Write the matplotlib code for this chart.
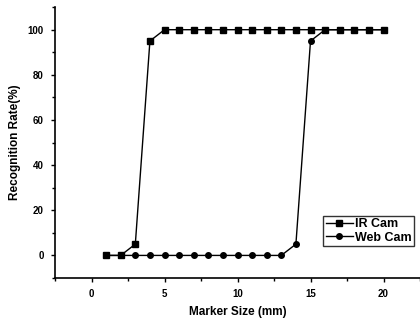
"""Recognition rate vs marker size for IR and web cameras."""

import matplotlib
matplotlib.use("Agg")
import matplotlib.pyplot as plt
from matplotlib.ticker import MultipleLocator

marker_size = [1, 2, 3, 4, 5, 6, 7, 8, 9, 10, 11, 12, 13, 14, 15, 16, 17, 18, 19, 20]
ir_cam = [0, 0, 5, 95, 100, 100, 100, 100, 100, 100, 100, 100, 100, 100, 100, 100, 100, 100, 100, 100]
web_cam = [0, 0, 0, 0, 0, 0, 0, 0, 0, 0, 0, 0, 0, 5, 95, 100, 100, 100, 100, 100]

plt.rcParams["font.family"] = ["Liberation Sans", "DejaVu Sans"]
plt.rcParams["font.weight"] = "bold"

fig = plt.figure(figsize=(4.2, 3.24), dpi=100)
ax = fig.add_axes([0.131, 0.142, 0.869, 0.836])

ax.plot(marker_size, ir_cam, "k-s", markersize=4, linewidth=1.0, label="IR Cam")
ax.plot(marker_size, web_cam, "k-o", markersize=4, linewidth=1.0, label="Web Cam")

ax.set_xlim(-2.5, 22.5)
ax.set_ylim(-10, 110)
ax.xaxis.set_major_locator(MultipleLocator(5))
ax.xaxis.set_minor_locator(MultipleLocator(2.5))
ax.yaxis.set_major_locator(MultipleLocator(20))
ax.yaxis.set_minor_locator(MultipleLocator(10))
ax.tick_params(which="major", direction="out", length=3, width=1, labelsize=7, pad=5)
ax.tick_params(which="minor", direction="out", length=2, width=1)
for lbl in ax.get_xticklabels() + ax.get_yticklabels():
    lbl.set_fontweight("bold")

ax.spines["top"].set_visible(False)
ax.spines["right"].set_visible(False)
ax.spines["left"].set_linewidth(1.2)
ax.spines["bottom"].set_linewidth(1.2)

ax.set_xlabel("Marker Size (mm)", fontsize=8.5, fontweight="bold", labelpad=5)
ax.set_ylabel("Recognition Rate(%)", fontsize=8.5, fontweight="bold", labelpad=5)

# legend box sits just above the bottom spine, near the right edge
leg = ax.legend(loc="lower right", bbox_to_anchor=(0.984, 0.118), fontsize=9,
                frameon=True, fancybox=False, edgecolor="black",
                handlelength=2.2, borderpad=0.2, labelspacing=0.1,
                handletextpad=0.15, borderaxespad=0.0)
leg.get_frame().set_linewidth(1.0)
for t in leg.get_texts():
    t.set_fontweight("bold")

fig.savefig("out.png", dpi=100)
